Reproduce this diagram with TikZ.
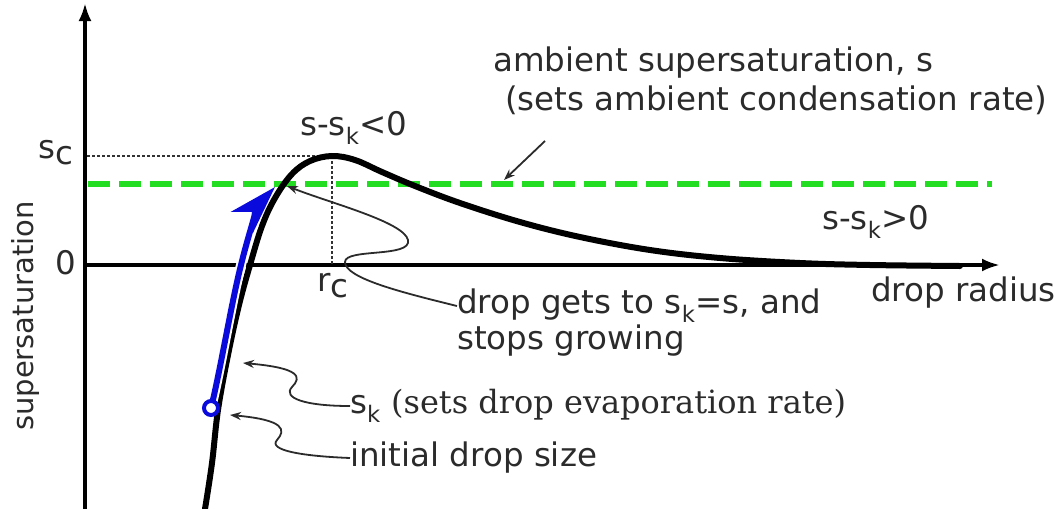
\documentclass[tikz,border=0pt]{standalone}
\usepackage{fontspec}
\setmainfont{DejaVu Sans}
\newfontfamily\serifnote{DejaVu Serif}
\usetikzlibrary{arrows.meta}
\definecolor{txt}{HTML}{2B2B2B}
\definecolor{ambgreen}{HTML}{22DD22}
\definecolor{pathblue}{HTML}{0A0ADC}
\begin{document}
\begin{tikzpicture}[x=1pt,y=-1pt,
  lbl/.style={font=\fontsize{32.5}{34}\selectfont, text=txt, inner sep=0pt},
  axis/.style={line width=3.5pt, -{Latex[length=18pt,width=13pt]}},
  note/.style={line width=1.8pt, draw=txt, -{Stealth[length=11pt,width=8pt]}},
  guide/.style={line width=1.6pt, draw=black!80, dash pattern=on 2.5pt off 2.5pt},
]
\useasboundingbox (0,0) rectangle (1061,509);
% axes
\coordinate (O) at (85,265);
\coordinate (ytop) at (85,3);
\coordinate (ybot) at (85,509);
\coordinate (xend) at (1000,265);
\draw[axis] (ybot) -- (ytop);
\draw[axis] (O) -- (xend);
% guides
\coordinate (peak) at (332,156);
\coordinate (rcfoot) at (332,265);
\coordinate (scfoot) at (87,156);
\draw[guide] (scfoot) -- (peak);
\draw[guide] (peak) -- (rcfoot);
% ambient line
\coordinate (ambL) at (88,184);
\coordinate (ambR) at (992,184);
\draw[ambgreen, line width=5.5pt, dash pattern=on 22pt off 9pt] (ambL) -- (ambR);
% Kohler curve
\draw[line width=6pt, line cap=round] plot[smooth, tension=0.6] coordinates {
 (205,509) (212,463) (218,410) (228,355) (239,305) (250,265) (262,226)
 (275,198) (292,174) (310,161) (332,156) (355,160) (382,172) (415,186)
 (460,203) (520,222) (580,237) (650,250) (720,258) (800,263) (870,265) (960,266)};
% blue path
\coordinate (start) at (211,408);
\coordinate (tip) at (275,187);
\draw[white, line width=10pt]
  (start) .. controls (220,372) and (232,300) .. (241,265)
  .. controls (246,245) and (250,232) .. (254,224);
\draw[pathblue, line width=6pt, -{Stealth[length=48pt,width=30pt,inset=14pt]}]
  (start) .. controls (220,372) and (232,300) .. (241,265)
  .. controls (250,228) and (260,203) .. (tip);
\draw[pathblue, line width=4pt, fill=white] (start) circle (7pt);
% labels
\node[lbl, anchor=west] (sc) at (38,153) {s\raisebox{-6pt}{c}};
\node[lbl, anchor=west] (zero) at (55,263) {0};
\node[lbl, anchor=north] (rc) at (333,273) {r\raisebox{-6pt}{c}};
\node[lbl, rotate=90, font=\fontsize{29}{30}\selectfont] (ylab) at (25,316) {supersaturation};
\node[lbl, anchor=west] (xlab) at (871,293) {drop radius};
\node[lbl, anchor=west] (neg) at (300,128) {s-s\textsubscript{k}<0};
\node[lbl, anchor=west] (pos) at (822,222) {s-s\textsubscript{k}>0};
\node[lbl, anchor=west] (amb1) at (493,63) {ambient supersaturation, s};
\node[lbl, anchor=west] (amb2) at (505,100) {(sets ambient condensation rate)};
\node[lbl, anchor=west] (stop1) at (457,306) {drop gets to s\textsubscript{k}=s, and};
\node[lbl, anchor=west] (stop2) at (457,341) {stops growing};
\node[lbl, anchor=west] (evap) at (350,406) {s\textsubscript{k} {\serifnote\fontsize{32}{34}\selectfont (sets drop evaporation rate)}};
\node[lbl, anchor=west] (init) at (350,458) {initial drop size};
% annotation connectors
\coordinate (ambtip) at (504,180);
\draw[note] (545,141) -- (ambtip);
\coordinate (cross) at (287,186);
\draw[note] (stop1.west) .. controls (400,292) and (345,278) .. (345,262)
  .. controls (345,248) and (412,258) .. (408,240)
  .. controls (404,222) and (330,203) .. (cross);
\coordinate (sktip) at (243,363);
\draw[note] (evap.west) .. controls (305,406) and (282,398) .. (292,387)
  .. controls (302,377) and (300,368) .. (sktip);
\coordinate (inittip) at (230,415);
\draw[note] (init.west) .. controls (300,456) and (268,450) .. (277,440)
  .. controls (286,430) and (285,420) .. (inittip);
\end{tikzpicture}
\end{document}
